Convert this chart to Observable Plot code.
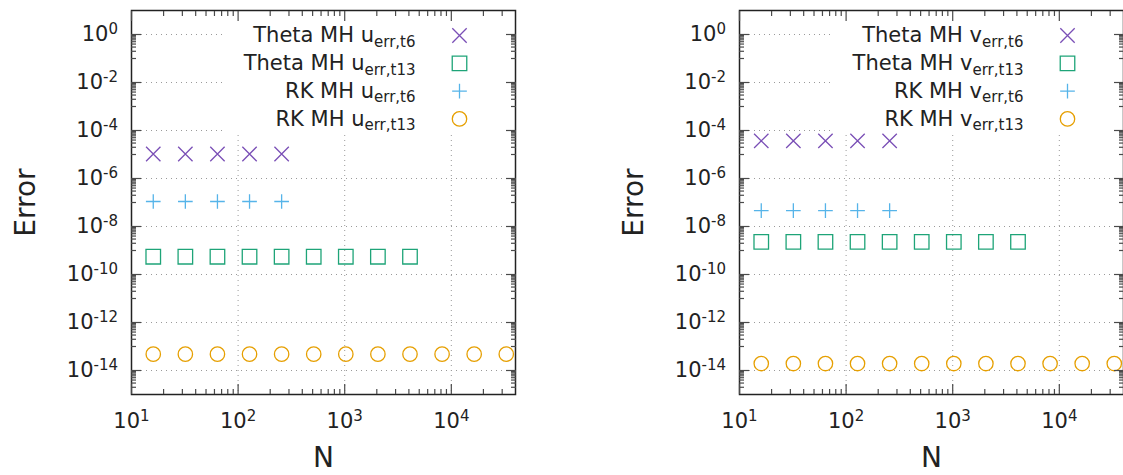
<!DOCTYPE html>
<html><head><meta charset="utf-8">
<script src="https://cdn.jsdelivr.net/npm/d3@7"></script>
<script src="https://cdn.jsdelivr.net/npm/@observablehq/plot@0.6"></script>
<style>
html,body{margin:0;padding:0;background:#fff;overflow:hidden;width:1123px;height:475px}
#row{display:flex;flex-wrap:nowrap;width:1216px}
#row svg{flex:0 0 auto;display:block}
</style></head><body><div id="row"></div>
<script>
// ---- data ----
const N_t6 = [16, 32, 64, 128, 256];
const N_theta_t13 = [16, 32, 64, 128, 256, 512, 1024, 2048, 4096];
const N_rk_t13 = [16, 32, 64, 128, 256, 512, 1024, 2048, 4096, 8192, 16384, 32768];

const uThetaT6  = [1.05e-5, 1.05e-5, 1.05e-5, 1.05e-5, 1.05e-5];
const uThetaT13 = [5.5e-10, 5.5e-10, 5.5e-10, 5.5e-10, 5.5e-10, 5.5e-10, 5.5e-10, 5.5e-10, 5.5e-10];
const uRkT6     = [1.1e-7, 1.1e-7, 1.1e-7, 1.1e-7, 1.1e-7];
const uRkT13    = [4.8e-14, 4.8e-14, 4.8e-14, 4.8e-14, 4.8e-14, 4.8e-14, 4.8e-14, 4.8e-14, 4.8e-14, 4.8e-14, 4.8e-14, 4.8e-14];

const vThetaT6  = [3.7e-5, 3.7e-5, 3.7e-5, 3.7e-5, 3.7e-5];
const vThetaT13 = [2.3e-9, 2.3e-9, 2.3e-9, 2.3e-9, 2.3e-9, 2.3e-9, 2.3e-9, 2.3e-9, 2.3e-9];
const vRkT6     = [4.6e-8, 4.6e-8, 4.6e-8, 4.6e-8, 4.6e-8];
const vRkT13    = [1.95e-14, 1.95e-14, 1.95e-14, 1.95e-14, 1.95e-14, 1.95e-14, 1.95e-14, 1.95e-14, 1.95e-14, 1.95e-14, 1.95e-14, 1.95e-14];

const namesU = ["Theta MH u_err,t6", "Theta MH u_err,t13", "RK MH u_err,t6", "RK MH u_err,t13"];
const namesV = ["Theta MH v_err,t6", "Theta MH v_err,t13", "RK MH v_err,t6", "RK MH v_err,t13"];
const seriesColors  = ["#7a4fb6", "#1ea478", "#56b4e9", "#e69f00"];
const seriesSymbols = ["times", "square", "plus", "circle"];
const symbolR = [6.6, 8.2, 4.8, 7.2];

const xMajor = [10, 100, 1000, 10000];
const xMinorMult = [2, 3, 4, 5, 6, 7, 8, 9];
const yMajorExp = [0, -2, -4, -6, -8, -10, -12, -14];
const yMinorExp = [1, -1, -3, -5, -7, -9, -11, -13, -15];
const yMinorMult = [1, 2, 3, 4, 5, 6, 7, 8, 9];
const xLabel = "N", yLabel = "Error";

const xDomain = [10, 40000], yDomain = [1e-15, 10];
const yMajor = yMajorExp.map(e => 10 ** e);
const xMinor = xMajor.flatMap(m => xMinorMult.map(k => k * m)).filter(v => v < xDomain[1]);
const yMinor = yMinorExp.flatMap(e => yMinorMult.map(k => k * 10 ** e)).filter(v => v > yDomain[0] * 1.01 && v < yDomain[1] * 0.99);

const INK = "#222";
const TICK = {stroke: "#4a4a4a", strokeWidth: 1.2, fill: null};
const GRID = {stroke: "#9a9a9a", strokeOpacity: 1, strokeWidth: 1, strokeDasharray: "1,4"};
const powFmt = d => "10^" + Math.round(Math.log10(d));
const rowDy = [25, 52.8, 80.6, 108.4];

function rich(svg) {
  const ns = "http://www.w3.org/2000/svg";
  svg.querySelectorAll("text").forEach(t => {
    const s = t.textContent;
    const m = s.match(/^(.*?)([\^_])(.+)$/);
    if (!m) return;
    while (t.firstChild) t.removeChild(t.firstChild);
    t.appendChild(document.createTextNode(m[1]));
    const ts = document.createElementNS(ns, "tspan");
    ts.setAttribute("font-size", "15");
    ts.setAttribute("dy", m[2] === "^" ? "-7" : "4.5");
    ts.textContent = m[3];
    t.appendChild(ts);
  });
}

function panel(names, series) {
  const marks = [
    Plot.gridX(xMajor.slice(1), GRID),
    Plot.gridY(yMajor, GRID),
    (index, scales, values, dim) => {
      const x0 = dim.marginLeft + 93;
      return d3.create("svg:rect")
        .attr("x", x0).attr("y", dim.marginTop)
        .attr("width", dim.width - dim.marginRight - x0).attr("height", 122)
        .attr("fill", "white").node();
    }
  ];
  series.forEach((s, i) => {
    const rows = s.N.map((n, j) => ({N: n, E: s.E[j]}));
    marks.push(Plot.dot(rows, {x: "N", y: "E", symbol: seriesSymbols[i], r: symbolR[i], stroke: seriesColors[i], strokeWidth: 1.3, fill: "none"}));
  });
  names.forEach((nm, i) => {
    marks.push(Plot.text([nm], {text: d => d, frameAnchor: "top-right", dx: -100, dy: rowDy[i], textAnchor: "end", lineAnchor: "middle", fontSize: 21, fill: INK}));
    marks.push(Plot.dot([nm], {frameAnchor: "top-right", dx: -56, dy: rowDy[i], symbol: seriesSymbols[i], r: symbolR[i], stroke: seriesColors[i], strokeWidth: 1.3, fill: "none"}));
  });
  marks.push(
    Plot.frame({stroke: INK, strokeWidth: 1.5}),
    Plot.axisX(xMajor, {anchor: "bottom", tickSize: -10, ...TICK}),
    Plot.axisX(xMinor, {anchor: "bottom", tickSize: -5, ...TICK}),
    Plot.axisX(xMajor, {anchor: "top", tickSize: -10, ...TICK}),
    Plot.axisX(xMinor, {anchor: "top", tickSize: -5, ...TICK}),
    Plot.axisY(yMajor, {anchor: "left", tickSize: -10, ...TICK}),
    Plot.axisY(yMinor, {anchor: "left", tickSize: -5, ...TICK}),
    Plot.axisY(yMajor, {anchor: "right", tickSize: -10, ...TICK}),
    Plot.axisY(yMinor, {anchor: "right", tickSize: -5, ...TICK}),
    Plot.axisX(xMajor, {anchor: "bottom", tickSize: 0, tickPadding: 19, tickFormat: powFmt, fontSize: 21, fill: INK, label: null}),
    Plot.axisY(yMajor, {anchor: "left", tickSize: 0, tickPadding: 13.5, tickFormat: powFmt, fontSize: 21, fill: INK, label: null}),
    Plot.text([xLabel], {text: d => d, frameAnchor: "bottom", dy: 64, lineAnchor: "middle", fontSize: 28, fill: INK}),
    Plot.text([yLabel], {text: d => d, frameAnchor: "left", dx: -105, rotate: -90, textAnchor: "middle", lineAnchor: "middle", fontSize: 28, fill: INK})
  );
  const svg = Plot.plot({
    width: 608, height: 475,
    marginLeft: 131, marginRight: 93, marginTop: 10, marginBottom: 81,
    style: {fontFamily: "'DejaVu Sans', Verdana, sans-serif", fontSize: "21px", color: INK, background: "white"},
    x: {type: "log", domain: xDomain},
    y: {type: "log", domain: yDomain},
    marks
  });
  rich(svg);
  return svg;
}

const row = document.getElementById("row");
row.appendChild(panel(namesU, [
  {N: N_t6, E: uThetaT6}, {N: N_theta_t13, E: uThetaT13}, {N: N_t6, E: uRkT6}, {N: N_rk_t13, E: uRkT13}
]));
row.appendChild(panel(namesV, [
  {N: N_t6, E: vThetaT6}, {N: N_theta_t13, E: vThetaT13}, {N: N_t6, E: vRkT6}, {N: N_rk_t13, E: vRkT13}
]));
</script></body></html>
